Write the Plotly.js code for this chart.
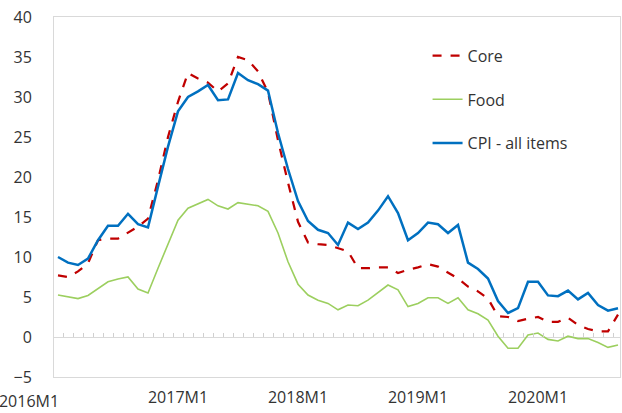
<!DOCTYPE html>
<html>
<head>
<meta charset="utf-8">
<script src="https://cdn.plot.ly/plotly-3.0.1.min.js"></script>
<style>html,body{margin:0;padding:0;background:#fff;}#chart{width:622px;height:413px;}</style>
</head>
<body>
<div id="chart"></div>
<script>
// Months 2016M1 .. 2020M9
var monthIndex = [];
for (var k = 0; k < 57; k++) monthIndex.push(k);
var tickPositions = [0, 12, 24, 36, 48];
var tickLabels = ["2016M1", "2017M1", "2018M1", "2019M1", "2020M1"];

var coreValues = [7.7, 7.5, 8.2, 9.2, 12.1, 12.3, 12.3, 13.0, 13.8, 14.8,
  19.6, 25.0, 29.4, 33.0, 32.3, 31.8, 30.7, 31.7, 35.0, 34.6,
  33.2, 30.6, 24.6, 19.3, 14.4, 11.8, 11.6, 11.5, 11.1, 10.7,
  8.6, 8.6, 8.7, 8.7, 8.0, 8.4, 8.7, 9.1, 8.8, 8.0,
  7.3, 6.3, 5.7, 4.8, 2.6, 2.5, 2.0, 2.3, 2.5, 1.9,
  1.9, 2.4, 1.5, 1.0, 0.7, 0.7, 2.8];
var foodValues = [5.25, 5.0, 4.8, 5.2, 6.1, 6.9, 7.25, 7.5, 6.0, 5.5,
  8.6, 11.6, 14.6, 16.1, 16.7, 17.2, 16.4, 16.0, 16.8, 16.6,
  16.4, 15.7, 13.0, 9.4, 6.6, 5.25, 4.6, 4.2, 3.4, 4.0,
  3.9, 4.6, 5.5, 6.5, 5.9, 3.8, 4.2, 4.9, 4.9, 4.2,
  4.9, 3.4, 2.9, 2.1, 0.1, -1.4, -1.4, 0.25, 0.5, -0.3,
  -0.5, 0.1, -0.2, -0.2, -0.7, -1.3, -1.0];
var cpiValues = [10.0, 9.3, 9.0, 9.8, 12.1, 13.9, 13.9, 15.4, 14.1, 13.7,
  18.8, 23.8, 28.2, 30.0, 30.7, 31.5, 29.6, 29.7, 33.0, 32.1,
  31.6, 30.8, 25.5, 21.0, 17.0, 14.5, 13.4, 13.0, 11.5, 14.3,
  13.5, 14.3, 15.8, 17.6, 15.5, 12.1, 13.0, 14.3, 14.1, 13.0,
  14.0, 9.3, 8.5, 7.3, 4.5, 3.0, 3.6, 6.9, 6.9, 5.2,
  5.1, 5.8, 4.7, 5.5, 4.0, 3.3, 3.6];

var FONT = "'Open Sans', 'Noto Sans', sans-serif";
var xRange = [-0.4, 56.2];
var yRange = [-5, 40];

var traces = [
  // helper (invisible) traces so the overlay axes get drawn
  {x: [], y: [], xaxis: "x2", yaxis: "y", type: "scatter", mode: "lines",
   showlegend: false, hoverinfo: "skip"},
  {x: [], y: [], xaxis: "x3", yaxis: "y", type: "scatter", mode: "lines",
   showlegend: false, hoverinfo: "skip"},
  {x: monthIndex, y: coreValues, name: "Core", type: "scatter", mode: "lines",
   legendgroup: "a", line: {color: "#C00000", width: 2.25, dash: "dash"}},
  {x: monthIndex, y: foodValues, name: "Food", type: "scatter", mode: "lines",
   legendgroup: "b", line: {color: "#9CCF5F", width: 1.6}},
  {x: monthIndex, y: cpiValues, name: "CPI - all items", type: "scatter", mode: "lines",
   legendgroup: "c", line: {color: "#0070C0", width: 2.5}}
];

var layout = {
  width: 622, height: 413,
  margin: {l: 54, r: 2, t: 17, b: 36},
  paper_bgcolor: "#fff", plot_bgcolor: "#fff",
  font: {family: FONT, size: 16, color: "#333"},
  showlegend: true,
  legend: {x: 0.66, y: 0.94, xanchor: "left", yanchor: "top",
    bgcolor: "rgba(0,0,0,0)", tracegroupgap: 20, font: {size: 16, color: "#333"}},
  xaxis: {range: xRange, showgrid: false, zeroline: false,
    showline: true, mirror: true, linecolor: "#D9D9D9", linewidth: 1,
    tickmode: "array", tickvals: tickPositions.slice(1), ticktext: tickLabels.slice(1),
    ticks: "", ticklabelstandoff: 6, tickfont: {size: 16, color: "#333"}},
  xaxis2: {range: xRange, overlaying: "x", anchor: "free", position: 5 / 45,
    showgrid: false, zeroline: false, showline: false,
    tickmode: "linear", tick0: -0.5, dtick: 1, ticks: "inside", ticklen: 4, tickcolor: "#D0D0D0",
    showticklabels: false},
  xaxis3: {range: xRange, overlaying: "x", anchor: "y", side: "bottom",
    showgrid: false, zeroline: false, showline: false,
    tickmode: "array", tickvals: tickPositions.slice(0, 1), ticktext: tickLabels.slice(0, 1),
    ticks: "", ticklabeloverflow: "allow", ticklabelshift: -29,
    ticklabelstandoff: 13, showticklabels: true,
    tickfont: {size: 16, color: "#333"}},
  yaxis: {range: yRange, dtick: 5, showgrid: false,
    zeroline: true, zerolinecolor: "#D9D9D9", zerolinewidth: 1,
    showline: true, mirror: true, linecolor: "#D9D9D9", linewidth: 1,
    ticks: "", ticklabelstandoff: 18, tickfont: {size: 16, color: "#333"}}
};

Plotly.newPlot("chart", traces, layout, {staticPlot: true, displayModeBar: false});
</script>
</body>
</html>
